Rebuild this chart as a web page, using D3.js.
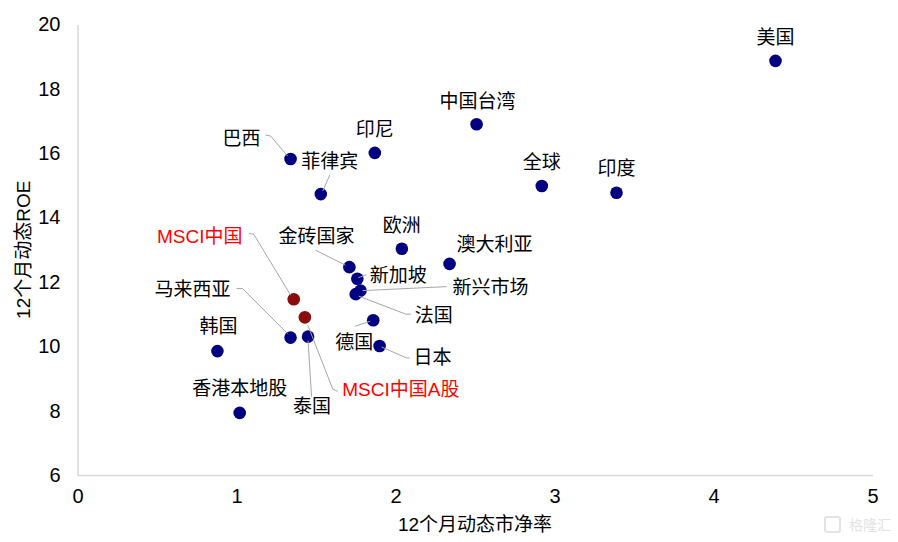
<!DOCTYPE html>
<html>
<head>
<meta charset="utf-8">
<script src="https://cdn.jsdelivr.net/npm/d3@7"></script>
<style>
  html, body { margin: 0; padding: 0; background: #fff; }
  svg text { font-family: "Liberation Sans", "Noto Sans CJK SC", sans-serif; }
</style>
</head>
<body>
<div id="chart"></div>
<script>
// data
const markets = ["美国", "中国台湾", "全球", "印度", "印尼", "巴西", "菲律宾", "欧洲", "澳大利亚", "金砖国家",
  "新加坡", "新兴市场", "法国", "MSCI中国", "MSCI中国A股", "马来西亚", "泰国", "德国", "日本", "韩国", "香港本地股"];
const pbValues = [4.39, 2.51, 2.92, 3.39, 1.87, 1.34, 1.53, 2.04, 2.34, 1.71,
  1.76, 1.78, 1.75, 1.36, 1.43, 1.34, 1.45, 1.86, 1.90, 0.88, 1.02];
const roeValues = [18.87, 16.90, 14.98, 14.77, 16.01, 15.82, 14.73, 13.03, 12.56, 12.46,
  12.10, 11.73, 11.62, 11.46, 10.90, 10.27, 10.30, 10.81, 10.01, 9.85, 7.93];
const highlighted = ["MSCI中国", "MSCI中国A股"];
const xTicks = [0, 1, 2, 3, 4, 5];
const yTicks = [6, 8, 10, 12, 14, 16, 18, 20];

// label placement, pixel offsets from the dot
const labelPlacement = {
  "美国": { dx: 0, dy: -23 },
  "中国台湾": { dx: 1, dy: -23 },
  "全球": { dx: 0, dy: -24 },
  "印度": { dx: 0, dy: -24 },
  "印尼": { dx: 0, dy: -23 },
  "巴西": { dx: -49, dy: -21, leader: [[-25, -24], [-20, -23], [-3, -3]] },
  "菲律宾": { dx: 9, dy: -33, leader: [[9, -19], [2, -3]] },
  "欧洲": { dx: 0, dy: -23 },
  "澳大利亚": { dx: 45, dy: -19 },
  "金砖国家": { dx: -33, dy: -31, leader: [[-34, -17], [-4, -2]] },
  "新加坡": { dx: 41, dy: -3, leader: [[9, -4], [1, -1]] },
  "新兴市场": { dx: 130, dy: -3, leader: [[86, -4], [2, 0]] },
  "法国": { dx: 78, dy: 21, leader: [[55, 20], [50, 20], [3, 2]] },
  "MSCI中国": { dx: -94, dy: -63, leader: [[-45, -66], [-40, -65], [-3, -4]] },
  "MSCI中国A股": { dx: 96, dy: 72, leader: [[33, 74], [28, 72], [3, 8]] },
  "马来西亚": { dx: -98, dy: -48, leader: [[-54, -49], [-48, -49], [-3, -4]] },
  "泰国": { dx: 4, dy: 70, leader: [[0, 4], [3.5, 60]] },
  "德国": { dx: -19, dy: 22, leader: [[-18, 6], [-3, 1]] },
  "日本": { dx: 53, dy: 12, leader: [[2, 1], [27, 12], [30, 12]] },
  "韩国": { dx: 1, dy: -25 },
  "香港本地股": { dx: 0, dy: -24 }
};

const width = 898;
const height = 542;
const margin = { top: 24.5, right: 25.5, bottom: 67, left: 77.5 };

const svg = d3.select("#chart")
  .append("svg")
  .attr("width", width)
  .attr("height", height);

const x = d3.scaleLinear()
  .domain([0, 5])
  .range([margin.left, width - margin.right]);

const y = d3.scaleLinear()
  .domain([6, 20])
  .range([height - margin.bottom, margin.top]);

// axes
const xAxis = svg.append("g")
  .attr("transform", `translate(0,${y(6)})`)
  .call(d3.axisBottom(x).tickValues(xTicks).tickSize(0).tickPadding(14).tickFormat(d3.format("d")));

const yAxis = svg.append("g")
  .attr("transform", `translate(${x(0)},0)`)
  .call(d3.axisLeft(y).tickValues(yTicks).tickSize(0).tickPadding(17).tickFormat(d3.format("d")));

[xAxis, yAxis].forEach(g => {
  g.select(".domain").attr("stroke", "#d9d9d9").attr("stroke-width", 1.5);
  g.selectAll("text").attr("font-size", 20).attr("fill", "#000")
    .attr("font-family", "\"Liberation Sans\", sans-serif");
});

svg.append("text")
  .text("12个月动态市净率")
  .attr("x", (x(0) + x(5)) / 2)
  .attr("y", 524)
  .attr("text-anchor", "middle")
  .attr("dominant-baseline", "central")
  .attr("font-size", 19);

svg.append("text")
  .text("12个月动态ROE")
  .attr("transform", `translate(23,${(y(6) + y(20)) / 2}) rotate(-90)`)
  .attr("text-anchor", "middle")
  .attr("dominant-baseline", "central")
  .attr("font-size", 19);

const points = markets.map((name, i) => ({
  name: name,
  pb: pbValues[i],
  roe: roeValues[i],
  red: highlighted.includes(name)
}));

// dots
svg.append("g")
  .selectAll("circle")
  .data(points)
  .enter()
  .append("circle")
  .attr("cx", d => x(d.pb))
  .attr("cy", d => y(d.roe))
  .attr("r", 6.3)
  .attr("fill", d => d.red ? "#8b0c0c" : "#000080");

// leader lines, drawn over the dots like the original
svg.append("g")
  .selectAll("path")
  .data(points.filter(d => labelPlacement[d.name].leader))
  .enter()
  .append("path")
  .attr("d", d => d3.line()(labelPlacement[d.name].leader.map(p => [x(d.pb) + p[0], y(d.roe) + p[1]])))
  .attr("fill", "none")
  .attr("stroke", "#a6a6a6")
  .attr("stroke-width", 1);

// labels
svg.append("g")
  .selectAll("text")
  .data(points)
  .enter()
  .append("text")
  .text(d => d.name)
  .attr("x", d => x(d.pb) + labelPlacement[d.name].dx)
  .attr("y", d => y(d.roe) + labelPlacement[d.name].dy)
  .attr("text-anchor", "middle")
  .attr("dominant-baseline", "central")
  .attr("font-size", 19)
  .attr("fill", d => d.red ? "#ff0000" : "#000");

// watermark
svg.append("text")
  .text("格隆汇")
  .attr("x", 870)
  .attr("y", 525)
  .attr("text-anchor", "middle")
  .attr("dominant-baseline", "central")
  .attr("font-size", 14)
  .attr("fill", "#e3e3e3");
svg.append("rect")
  .attr("x", 825)
  .attr("y", 517)
  .attr("width", 15)
  .attr("height", 15)
  .attr("rx", 2)
  .attr("fill", "none")
  .attr("stroke", "#e3e3e3")
  .attr("stroke-width", 2);
</script>
</body>
</html>
